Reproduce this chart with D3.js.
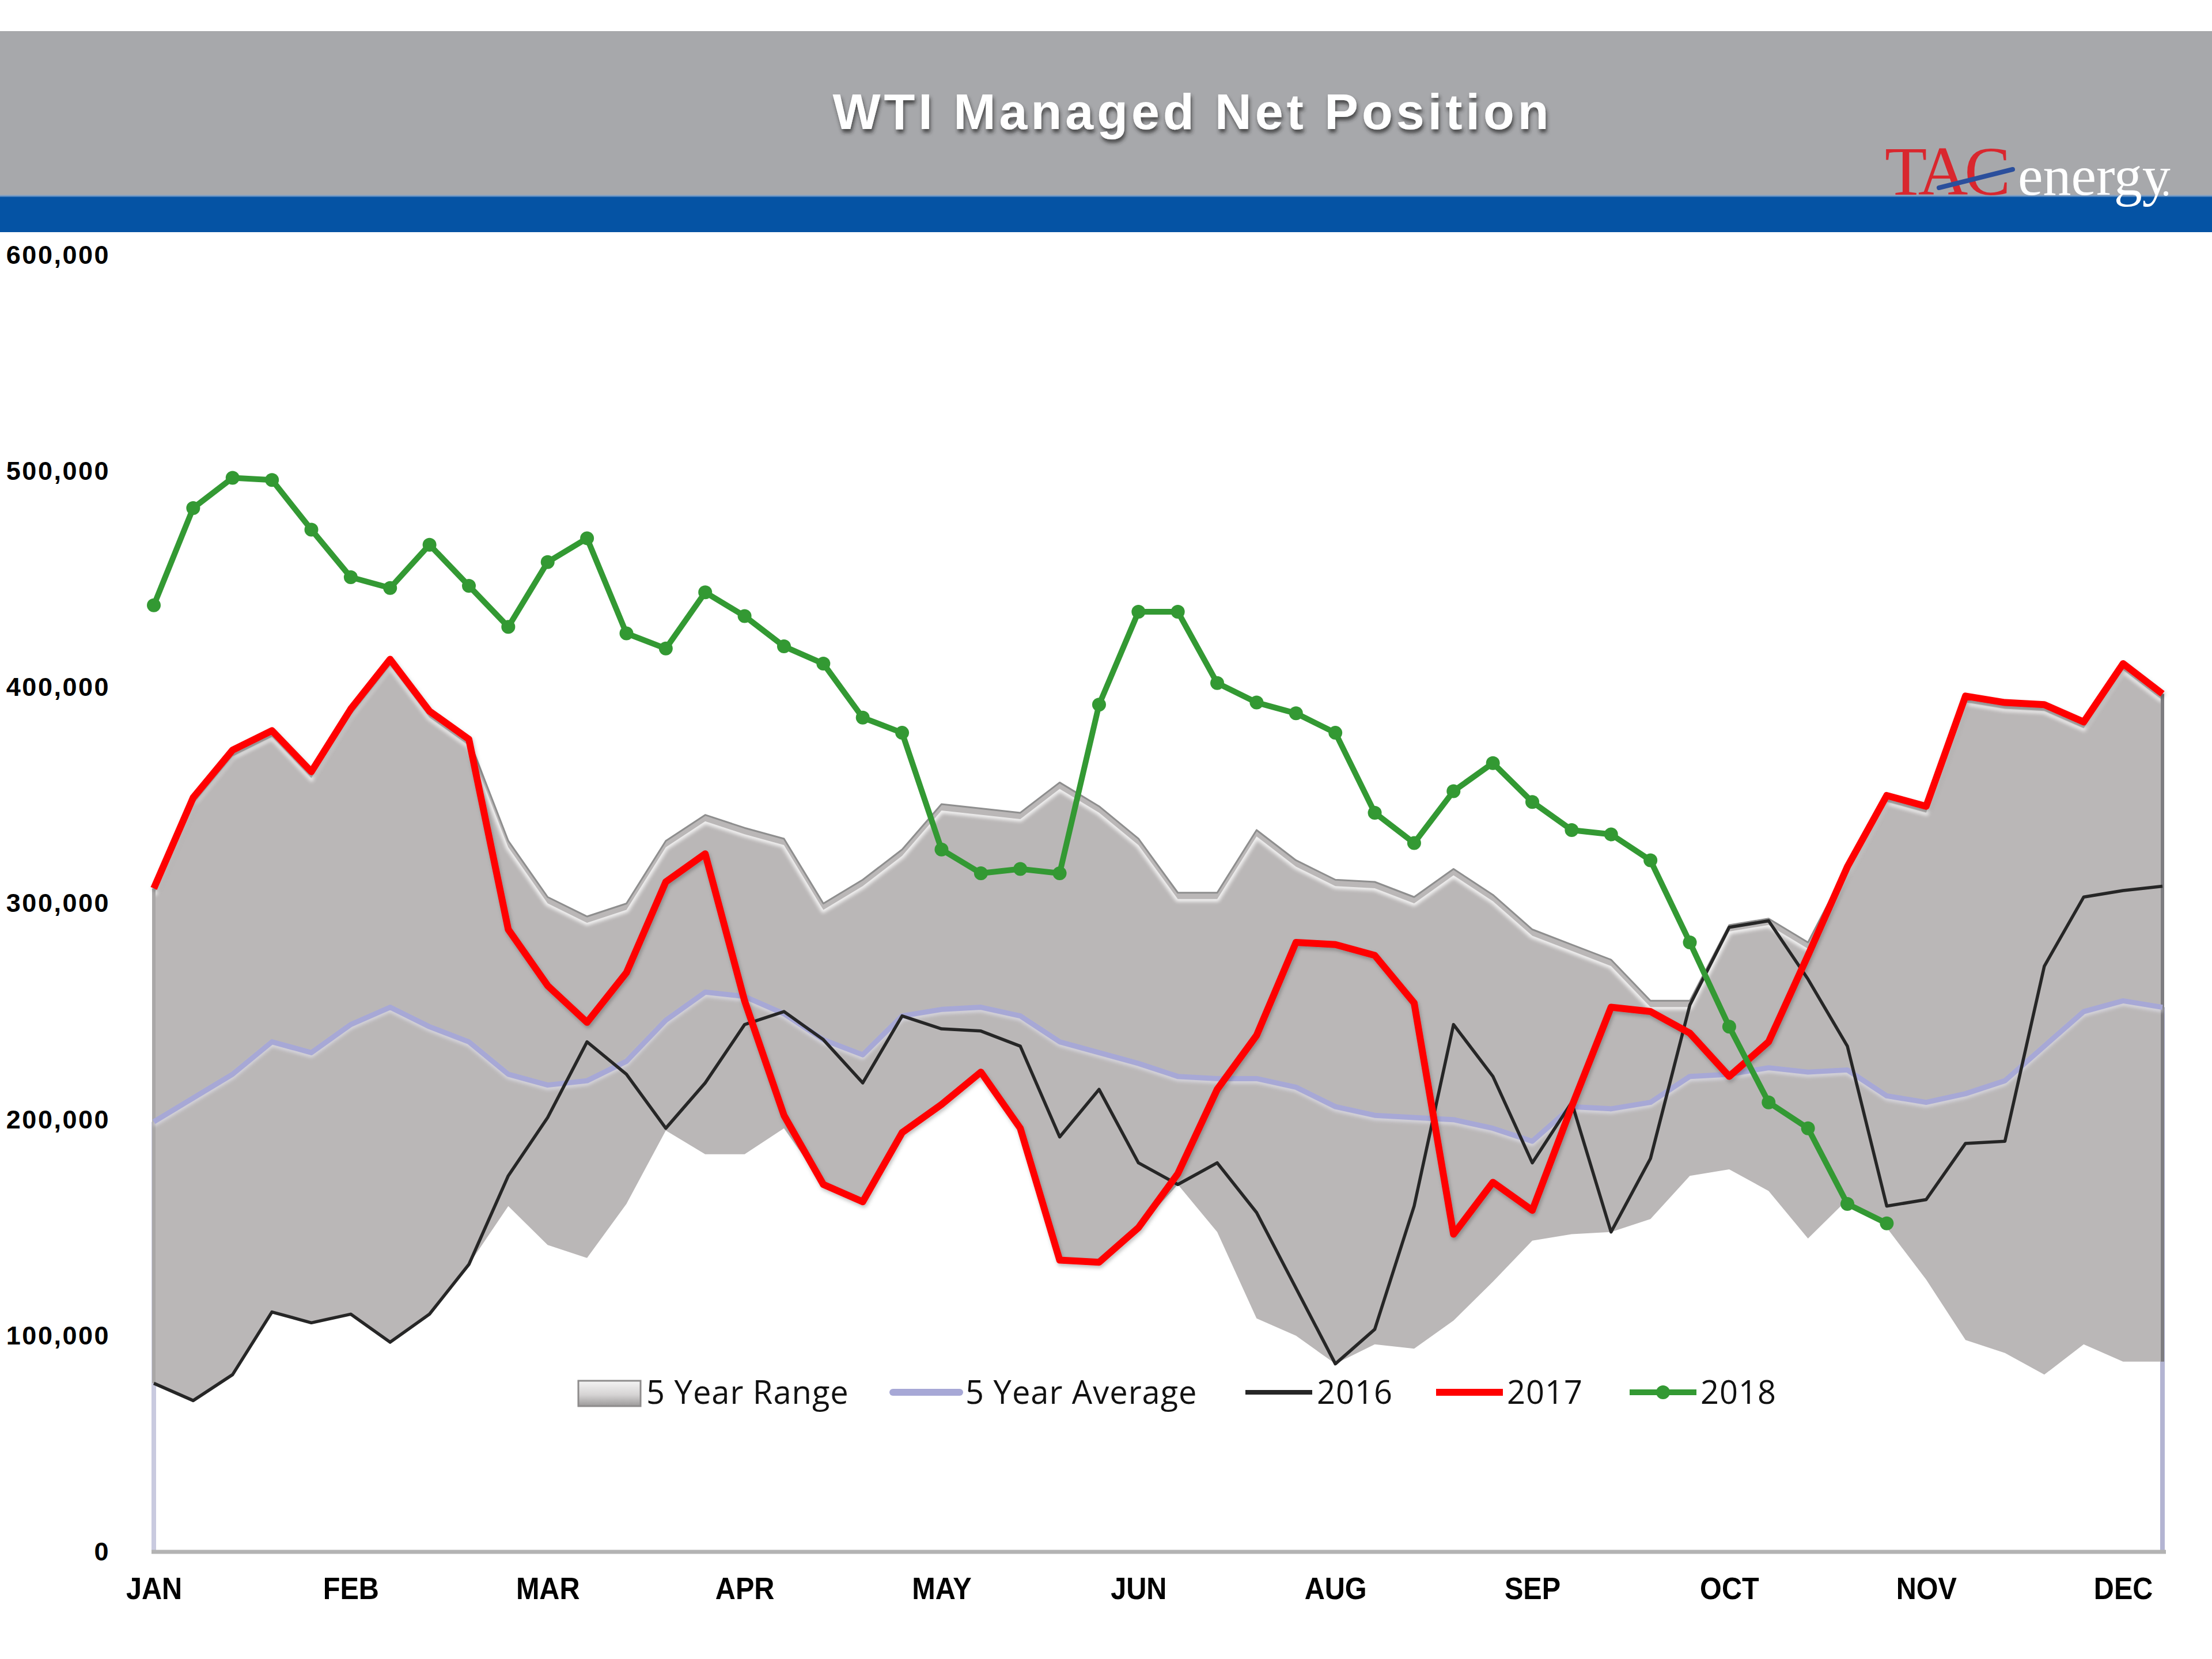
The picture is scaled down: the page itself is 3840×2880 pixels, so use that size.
<!DOCTYPE html>
<html><head><meta charset="utf-8">
<script src="https://cdn.jsdelivr.net/npm/d3@7"></script>
<style>html,body{margin:0;padding:0;background:#fff;} svg{display:block;}</style>
</head><body>
<svg id="chart" width="3840" height="2880"></svg>
<script>
// ---------- DATA ----------
const chartTitle = "WTI Managed Net Position";
const monthLabels = ["JAN","FEB","MAR","APR","MAY","JUN","AUG","SEP","OCT","NOV","DEC"];
const monthTickWeeks = [0,5,10,15,20,25,30,35,40,45,50];
const yTickValues = [0,100000,200000,300000,400000,500000,600000];
const legendLabels = ["5 Year Range","5 Year Average","2016","2017","2018"];

const range5High = [307000,349000,371000,380000,361000,390000,413000,389000,376000,329000,
  303000,294000,300000,329000,341000,335000,330000,300000,311000,325000,
  346000,344000,342000,356000,345000,330000,305000,305000,334000,320000,
  311000,310000,303000,316000,304000,288000,281000,274000,255000,255000,
  290000,293000,282000,317000,350000,345000,396000,393000,392000,384000,
  411000,397000];
const range5Low = [78000,70000,82000,111000,106000,110000,97000,110000,133000,160000,
  142000,136000,161000,195000,184000,184000,196000,170000,162000,194000,
  207000,222000,196000,135000,134000,150000,170000,148000,108000,100000,
  87000,96000,94000,107000,125000,144000,147000,148000,154000,174000,
  177000,167000,145000,163000,150000,126000,98000,92000,82000,96000,
  88000,88000];
const avg5 = [199000,210000,221000,236000,231000,244000,252000,243000,236000,221000,
  216000,218000,227000,246000,259000,257000,249000,237000,230000,248000,
  251000,252000,248000,236000,231000,226000,220000,219000,219000,215000,
  206000,202000,201000,200000,196000,190000,206000,205000,208000,220000,
  221000,224000,222000,223000,211000,208000,212000,218000,234000,250000,
  255000,252000];
const y2016 = [78000,70000,82000,111000,106000,110000,97000,110000,133000,174000,
  201000,236000,221000,196000,217000,244000,250000,237000,217000,248000,
  242000,241000,234000,192000,214000,180000,170000,180000,157000,122000,
  87000,103000,160000,244000,220000,180000,208000,148000,182000,253000,
  289000,292000,265000,234000,160000,163000,189000,190000,271000,303000,
  306000,308000];
const y2017 = [307000,349000,371000,380000,361000,390000,413000,389000,376000,288000,
  262000,245000,268000,310000,323000,255000,202000,170000,162000,194000,
  207000,222000,196000,135000,134000,150000,175000,214000,239000,282000,
  281000,276000,254000,147000,171000,158000,206000,252000,250000,240000,
  220000,236000,276000,317000,350000,345000,396000,393000,392000,384000,
  411000,397000];
const y2018 = [438000,483000,497000,496000,473000,451000,446000,466000,447000,428000,
  458000,469000,425000,418000,444000,433000,419000,411000,386000,379000,
  325000,314000,316000,314000,392000,435000,435000,402000,393000,388000,
  379000,342000,328000,352000,365000,347000,334000,332000,320000,282000,
  243000,208000,196000,161000,152000];

// ---------- SETUP ----------
const W = 3840, H = 2880;
const svg = d3.select('#chart');
const defs = svg.append('defs');

const sh = defs.append('filter').attr('id','titleShadow').attr('x','-10%').attr('y','-30%').attr('width','120%').attr('height','180%');
sh.append('feDropShadow').attr('dx',2).attr('dy',6).attr('stdDeviation',3).attr('flood-color','#2a2a2a').attr('flood-opacity',0.75);
const soft = defs.append('filter').attr('id','soft').attr('x','-5%').attr('y','-20%').attr('width','110%').attr('height','140%');
soft.append('feGaussianBlur').attr('stdDeviation',3);
const lineShadow = defs.append('filter').attr('id','lineShadow').attr('x','-5%').attr('y','-10%').attr('width','110%').attr('height','130%');
lineShadow.append('feDropShadow').attr('dx',2).attr('dy',4).attr('stdDeviation',3).attr('flood-color','#000').attr('flood-opacity',0.25);

const swGrad = defs.append('linearGradient').attr('id','swGrad').attr('x1',0).attr('y1',0).attr('x2',0).attr('y2',1);
swGrad.append('stop').attr('offset','0%').attr('stop-color','#f4f4f4');
swGrad.append('stop').attr('offset','55%').attr('stop-color','#d6d4d4');
swGrad.append('stop').attr('offset','100%').attr('stop-color','#9c9a9a');

// ---------- HEADER ----------
svg.append('rect').attr('x',0).attr('y',54).attr('width',W).attr('height',287).attr('fill','#a7a8ab');
svg.append('rect').attr('x',0).attr('y',340).attr('width',W).attr('height',63).attr('fill','#0553a4');
svg.append('rect').attr('x',0).attr('y',338).attr('width',W).attr('height',4).attr('fill','#7fa3cf').attr('opacity',0.6);

svg.append('text').attr('x',2070).attr('y',224).attr('text-anchor','middle')
  .attr('font-family','"Liberation Sans", Arial, sans-serif').attr('font-weight','bold')
  .attr('font-size',88).attr('letter-spacing',6).attr('fill','#ffffff')
  .attr('filter','url(#titleShadow)').text(chartTitle);

// logo
const logo = svg.append('g');
logo.append('text').attr('x',3272).attr('y',338)
  .attr('font-family','"Liberation Serif", "DejaVu Serif", serif').attr('font-size',120)
  .attr('letter-spacing',-6).attr('fill','#d9272e').text('TAC');
logo.append('line').attr('x1',3366).attr('y1',326).attr('x2',3494).attr('y2',294)
  .attr('stroke','#2b4f9c').attr('stroke-width',8).attr('stroke-linecap','round');
logo.append('text').attr('x',3503).attr('y',338)
  .attr('font-family','"Liberation Serif", "DejaVu Serif", serif').attr('font-size',98)
  .attr('fill','#ffffff').text('energy');
logo.append('circle').attr('cx',3760).attr('cy',336).attr('r',4).attr('fill','#ffffff');

// ---------- SCALES ----------
const x = d3.scaleLinear().domain([0,51]).range([267,3754]);
const y = d3.scaleLinear().domain([0,600000]).range([2694,443]);
const weeks = d3.range(range5High.length);
const plot = svg.append('g');

// end drop lines (average area edges)
plot.append('line').attr('x1',x(0)).attr('x2',x(0)).attr('y1',y(0)).attr('y2',y(avg5[0]))
  .attr('stroke','#c9cadf').attr('stroke-width',8);
plot.append('line').attr('x1',x(51)).attr('x2',x(51)).attr('y1',y(0)).attr('y2',y(avg5[51]))
  .attr('stroke','#b3b4d2').attr('stroke-width',8);

// range band
const band = d3.area().x(i => x(i)).y0(i => y(range5Low[i])).y1(i => y(range5High[i]));
defs.append('clipPath').attr('id','bandClip').append('path').datum(weeks).attr('d',band);
plot.append('path').datum(weeks).attr('d',band).attr('fill','#bab7b7');
const valLine = d3.line().x((d,i) => x(i)).y(d => y(d));
plot.append('path').datum(range5High).attr('d',valLine).attr('transform','translate(0,11)')
  .attr('fill','none').attr('stroke','#ffffff').attr('stroke-width',9).attr('opacity',0.85)
  .attr('filter','url(#soft)').attr('clip-path','url(#bandClip)');
plot.append('path').datum(range5High).attr('d',valLine)
  .attr('fill','none').attr('stroke','#8e8e8e').attr('stroke-width',3).attr('stroke-linejoin','round');
plot.append('line').attr('x1',x(0)).attr('x2',x(0)).attr('y1',y(range5Low[0])).attr('y2',y(range5High[0]))
  .attr('stroke','#a9a7a7').attr('stroke-width',6);
plot.append('line').attr('x1',x(51)).attr('x2',x(51)).attr('y1',y(range5Low[51])).attr('y2',y(range5High[51]))
  .attr('stroke','#7d7c80').attr('stroke-width',6);

// x axis line
plot.append('line').attr('x1',x(0)-4).attr('x2',x(51)+6).attr('y1',y(0)).attr('y2',y(0))
  .attr('stroke','#b3b3b3').attr('stroke-width',7);

// average
plot.append('path').datum(avg5).attr('d',valLine).attr('transform','translate(0,5)')
  .attr('fill','none').attr('stroke','#e6e6f2').attr('stroke-width',6).attr('opacity',0.8).attr('filter','url(#soft)');
plot.append('path').datum(avg5).attr('d',valLine)
  .attr('fill','none').attr('stroke','#a7a8d6').attr('stroke-width',9).attr('stroke-linejoin','round');

// 2016
plot.append('path').datum(y2016).attr('d',valLine)
  .attr('fill','none').attr('stroke','#262626').attr('stroke-width',5.5).attr('stroke-linejoin','round');
// 2017
plot.append('path').datum(y2017).attr('d',valLine).attr('filter','url(#lineShadow)')
  .attr('fill','none').attr('stroke','#ff0000').attr('stroke-width',12).attr('stroke-linejoin','round');
// 2018
plot.append('path').datum(y2018).attr('d',valLine)
  .attr('fill','none').attr('stroke','#339933').attr('stroke-width',10).attr('stroke-linejoin','round');
plot.selectAll('circle.p18').data(y2018).enter().append('circle').attr('class','p18')
  .attr('cx',(d,i) => x(i)).attr('cy',d => y(d)).attr('r',12).attr('fill','#339933');

// ---------- AXES ----------
const xAxis = d3.axisBottom(x).tickValues(monthTickWeeks)
  .tickFormat((d,i) => monthLabels[i]).tickSize(0).tickPadding(44);
const gx = svg.append('g').attr('transform',`translate(0,${y(0)})`).call(xAxis);
gx.select('.domain').remove();
gx.selectAll('text').attr('font-family','"Liberation Sans", Arial, sans-serif')
  .attr('font-weight','bold').attr('font-size',54).attr('fill','#000')
  .attr('transform','scale(0.9,1)');

const yAxis = d3.axisLeft(y).tickValues(yTickValues).tickFormat(d3.format(',')).tickSize(0).tickPadding(76);
const gy = svg.append('g').attr('transform',`translate(${x(0)},0)`).call(yAxis);
gy.select('.domain').remove();
gy.selectAll('text').attr('font-family','"Liberation Sans", Arial, sans-serif')
  .attr('font-weight','bold').attr('font-size',45).attr('letter-spacing',2.5).attr('fill','#000');

// ---------- LEGEND ----------
const lg = svg.append('g');
const ly = 2417;
const legendFont = '"Open Sans", "Noto Sans", sans-serif';
// 5 year range swatch
lg.append('rect').attr('x',1004).attr('y',2397).attr('width',108).attr('height',44)
  .attr('fill','url(#swGrad)').attr('stroke','#8e8c8c').attr('stroke-width',3);
const itemTextX = [1122,1676,2286,2616,2952];
// avg
lg.append('line').attr('x1',1550).attr('x2',1666).attr('y1',ly).attr('y2',ly)
  .attr('stroke','#a7a8d6').attr('stroke-width',12).attr('stroke-linecap','round');
// 2016
lg.append('line').attr('x1',2162).attr('x2',2278).attr('y1',ly).attr('y2',ly)
  .attr('stroke','#262626').attr('stroke-width',8);
// 2017
lg.append('line').attr('x1',2493).attr('x2',2609).attr('y1',ly).attr('y2',ly)
  .attr('stroke','#ff0000').attr('stroke-width',12);
// 2018
lg.append('line').attr('x1',2829).attr('x2',2945).attr('y1',ly).attr('y2',ly)
  .attr('stroke','#339933').attr('stroke-width',10);
lg.append('circle').attr('cx',2887).attr('cy',ly).attr('r',12).attr('fill','#339933');

lg.selectAll('text.lt').data(legendLabels).enter().append('text').attr('class','lt')
  .attr('x',(d,i) => itemTextX[i]).attr('y',ly + 20)
  .attr('font-family',legendFont).attr('font-size',56).attr('letter-spacing',1)
  .attr('fill','#111').text(d => d);
</script>
</body></html>
